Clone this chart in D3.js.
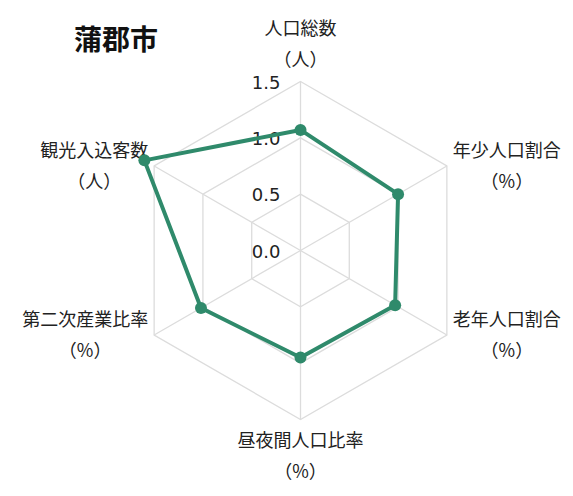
<!DOCTYPE html>
<html><head><meta charset="utf-8">
<script src="https://cdn.jsdelivr.net/npm/d3@7"></script>
<style>body{margin:0;background:#fff}svg{display:block}</style>
</head><body>
<script>
const title = "蒲郡市";
const categories = ["人口総数","年少人口割合","老年人口割合","昼夜間人口比率","第二次産業比率","観光入込客数"];
const units = ["（人）","（%）","（%）","（%）","（%）","（人）"];
const values = [1.07, 1.0, 0.97, 0.95, 1.02, 1.60];
const ticks = [0.0, 0.5, 1.0, 1.5];
const tickLabels = ["0.0","0.5","1.0","1.5"];

const W = 573, H = 496, cx = 300.5, cy = 250.5, R = 169;
const svg = d3.select("body").append("svg").attr("width", W).attr("height", H);
const r = d3.scaleLinear().domain([0, 1.5]).range([0, R]);
const ang = d3.scalePoint().domain(categories).range([0, 2*Math.PI*(5/6)]);
const pt = (c, v) => { const a = ang(c); return [cx + r(v)*Math.sin(a), cy - r(v)*Math.cos(a)]; };

const grid = svg.append("g").attr("stroke", "#dcdcdc").attr("stroke-width", 1.3).attr("fill", "none");
ticks.filter(t => t > 0).forEach(t => {
  grid.append("path").attr("d", d3.line()(categories.map(c => pt(c, t))) + "Z");
});
categories.forEach(c => {
  const [x, y] = pt(c, 1.5);
  grid.append("line").attr("x1", cx).attr("y1", cy).attr("x2", x).attr("y2", y);
});

svg.append("g").selectAll("text").data(ticks).join("text")
  .attr("x", cx - 20).attr("y", t => cy - r(t) + 1)
  .attr("dy", "0.35em").attr("text-anchor", "end")
  .attr("font-family", "DejaVu Sans").attr("font-size", 18).attr("fill", "#222")
  .text((t, i) => tickLabels[i]);

const lineH = 31, gap = 6;
categories.forEach((c, i) => {
  const [vx, vy] = pt(c, 1.5);
  const g = svg.append("g").attr("font-family", "'Noto Sans CJK JP'").attr("font-size", 18).attr("fill", "#222").attr("text-anchor", "middle");
  const t1 = g.append("text").text(c);
  const t2 = g.append("text").text(units[i]);
  const w = Math.max(t1.node().getComputedTextLength(), t2.node().getComputedTextLength());
  let x = vx, y = vy;
  const a = ang(c);
  if (Math.abs(Math.sin(a)) < 0.01) {
    y = Math.cos(a) > 0 ? vy - gap - lineH : vy + gap + lineH;
  } else {
    x = Math.sin(a) > 0 ? vx + gap + w/2 : vx - gap - w/2;
  }
  t1.attr("x", x).attr("y", y - lineH/2).attr("dy", "0.35em");
  t2.attr("x", x).attr("y", y + lineH/2).attr("dy", "0.35em");
});

const color = "#2f8a6b";
svg.append("path").attr("d", d3.line()(categories.map((c, i) => pt(c, values[i]))) + "Z")
  .attr("fill", "none").attr("stroke", color).attr("stroke-width", 4).attr("stroke-linejoin", "round");
svg.append("g").selectAll("circle").data(categories).join("circle")
  .attr("cx", (c, i) => pt(c, values[i])[0]).attr("cy", (c, i) => pt(c, values[i])[1])
  .attr("r", 6).attr("fill", color);

svg.append("text").attr("x", 74).attr("y", 40).attr("dy", "0.35em")
  .attr("font-family", "'Noto Sans CJK JP'").attr("font-weight", "bold").attr("font-size", 28)
  .attr("fill", "#111").text(title);
</script>
</body></html>
